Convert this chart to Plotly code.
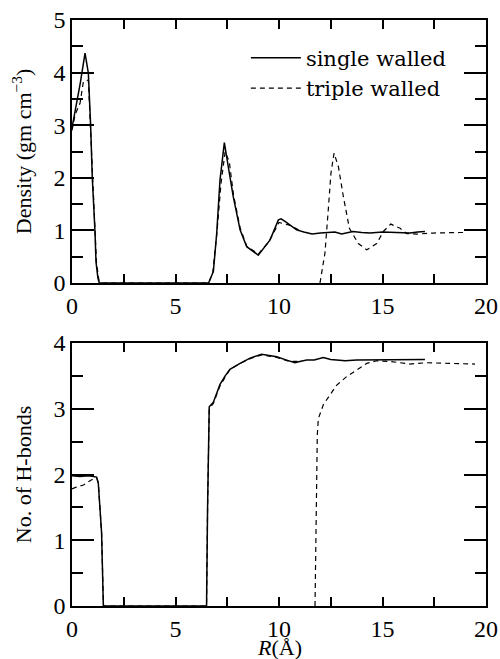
import plotly.graph_objects as go
from plotly.subplots import make_subplots

# ---- Density panel ----
dens_single_x = [0, 0.2, 0.4, 0.63, 0.79, 0.9, 0.98, 1.11, 1.16, 1.25, 1.32, 2.0, 4.0, 6.6,
                 6.83, 6.99, 7.15, 7.36, 7.55, 7.79, 8.12, 8.44, 9.0, 9.57, 9.97, 10.1, 10.29,
                 10.85, 11.2, 11.6, 12.0, 12.3, 12.7, 13.03, 13.57, 14.0, 14.4, 15.0, 15.5,
                 16.0, 16.33, 16.7, 17.05]
dens_single_y = [2.95, 3.35, 3.8, 4.37, 3.99, 3.0, 2.0, 0.98, 0.4, 0.1, 0.0, 0, 0, 0,
                 0.22, 0.94, 1.96, 2.67, 2.21, 1.64, 1.01, 0.69, 0.53, 0.82, 1.2, 1.22, 1.17,
                 1.01, 0.97, 0.93, 0.95, 0.96, 0.97, 0.93, 0.98, 0.96, 0.95, 0.97, 0.96,
                 0.95, 0.95, 0.97, 0.98]

dens_triple_x = [0, 0.15, 0.39, 0.55, 0.79, 0.9, 0.98, 1.11, 1.18, 1.3, 1.4, 4.0, 6.6, 6.8,
                 7.0, 7.2, 7.4, 7.6, 7.8, 8.12, 8.44, 9.0, 9.5, 10.0, 10.5, 11.0, 11.5,
                 11.98, 12.22, 12.38, 12.51, 12.66, 12.87, 13.11, 13.4, 13.83, 14.24, 14.72,
                 15.04, 15.4, 15.85, 16.17, 16.65, 17.45, 18.0, 18.74, 19.0]
dens_triple_y = [2.9, 3.2, 3.42, 3.83, 3.86, 2.9, 1.95, 0.95, 0.4, 0.05, 0, 0, 0, 0.2,
                 0.95, 1.9, 2.5, 2.3, 1.68, 1.05, 0.7, 0.55, 0.78, 1.15, 1.1, 1.0, None,
                 0, 0.57, 1.39, 2.09, 2.47, 2.21, 1.64, 1.04, 0.75, 0.63, 0.75,
                 0.98, 1.12, 1.04, 0.94, 0.93, 0.95, 0.96, 0.96, 0.96]

# ---- H-bond panel ----
hb_single_x = [0, 0.39, 0.8, 1.19, 1.27, 1.35, 1.43, 1.51, 1.52, 4.0, 6.5, 6.55, 6.63, 6.83,
               7.15, 7.4, 7.63, 8.12, 8.6, 9.16, 9.5, 9.89, 10.37, 10.77, 11.0, 11.34, 11.7,
               12.14, 12.5, 12.79, 13.2, 13.75, 14.3, 14.88, 15.4, 15.85, 16.5, 17.05]
hb_single_y = [1.98, 1.97, 1.98, 1.96, 1.87, 1.5, 1.11, 0.05, 0, 0, 0, 1.5, 3.03, 3.1,
               3.37, 3.5, 3.6, 3.69, 3.77, 3.83, 3.81, 3.79, 3.74, 3.70, 3.72, 3.74, 3.74,
               3.78, 3.75, 3.74, 3.73, 3.74, 3.74, 3.74, 3.75, 3.75, 3.74, 3.75]

hb_triple_x = [0, 0.14, 0.55, 0.95, 1.2, 1.27, 1.35, 1.43, 1.52, 4.0, 6.5, 6.55, 6.63, 6.83,
               7.15, 7.63, 8.12, 8.6, 9.16, 9.89, 10.5, 11.0, 11.4, 11.74, 11.8, 11.85, 11.9,
               12.14, 12.46, 12.79, 13.27, 13.75, 14.24, 14.72, 15.36, 16.33, 17.13, 18.26,
               19.47]
hb_triple_y = [1.78, 1.8, 1.84, 1.92, 1.94, 1.87, 1.5, 1.1, 0, 0, 0, 1.5, 3.0, 3.08,
               3.35, 3.6, 3.69, 3.76, 3.82, 3.78, 3.72, 3.72, None, 0, 1.5, 2.6, 2.85,
               3.06, 3.21, 3.36, 3.49, 3.59, 3.69, 3.73, 3.72, 3.68, 3.70, 3.69, 3.68]

x_tick_vals = [0, 5, 10, 15, 20]
series_names = ["single walled", "triple walled"]

SERIF = "Liberation Serif"
tick_font = dict(family=SERIF, size=24, color="black")
title_font = dict(family=SERIF, size=22, color="black")

fig = make_subplots(rows=2, cols=1, vertical_spacing=0.1024)

solid = dict(color="black", width=1.5)
dashed = dict(color="black", width=1.2, dash="5px,4px")

fig.add_trace(go.Scatter(x=dens_single_x, y=dens_single_y, mode="lines", line=solid,
                         name=series_names[0], showlegend=True), row=1, col=1)
fig.add_trace(go.Scatter(x=dens_triple_x, y=dens_triple_y, mode="lines", line=dashed,
                         name=series_names[1], showlegend=True), row=1, col=1)
fig.add_trace(go.Scatter(x=hb_single_x, y=hb_single_y, mode="lines", line=solid,
                         name=series_names[0], showlegend=False), row=2, col=1)
fig.add_trace(go.Scatter(x=hb_triple_x, y=hb_triple_y, mode="lines", line=dashed,
                         name=series_names[1], showlegend=False), row=2, col=1)

xax = dict(range=[0, 20], tickvals=x_tick_vals, ticks="inside", ticklen=9, tickwidth=1.5,
           tickcolor="black", showline=True, linecolor="black", linewidth=1.5,
           mirror="allticks", automargin=False, layer="above traces",
           showgrid=False, zeroline=False, tickfont=tick_font,
           minor=dict(dtick=2.5, ticks="inside", ticklen=9, tickwidth=1.5, tickcolor="black"))
yax = dict(dtick=1, ticks="inside", ticklen=22, tickwidth=1.5, tickcolor="black",
           showline=True, linecolor="black", linewidth=1.5, mirror="allticks",
           automargin=False, layer="above traces",
           showgrid=False, zeroline=False, tickfont=tick_font,
           minor=dict(dtick=0.5, ticks="inside", ticklen=11, tickwidth=1.5, tickcolor="black"))

fig.update_layout(
    template="none",
    xaxis=xax, xaxis2=xax,
    yaxis=dict(yax, range=[0, 5], title=dict(text="Density (gm cm<sup>−3</sup>)", font=title_font, standoff=16)),
    yaxis2=dict(yax, range=[0, 4], title=dict(text="No. of H-bonds", font=title_font, standoff=16)),
)

# x-axis title of the lower panel, placed just below its tick labels
fig.add_annotation(text="<i>R</i>(Å)", xref="x2 domain", x=0.5, yref="paper", y=-0.046,
                   xanchor="center", yanchor="top", showarrow=False, font=title_font)

fig.update_layout(
    width=500, height=659,
    margin=dict(l=72, r=14, t=20, b=53),
    font=dict(family=SERIF, color="black"),
    paper_bgcolor="white", plot_bgcolor="white",
    showlegend=True,
    legend=dict(x=0.42, y=0.97, xanchor="left", yanchor="top", bgcolor="rgba(0,0,0,0)",
                font=dict(family="DejaVu Serif", size=21, color="black"),
                itemwidth=50, tracegroupgap=0, traceorder="normal"),
)

fig.write_html("out.html")
